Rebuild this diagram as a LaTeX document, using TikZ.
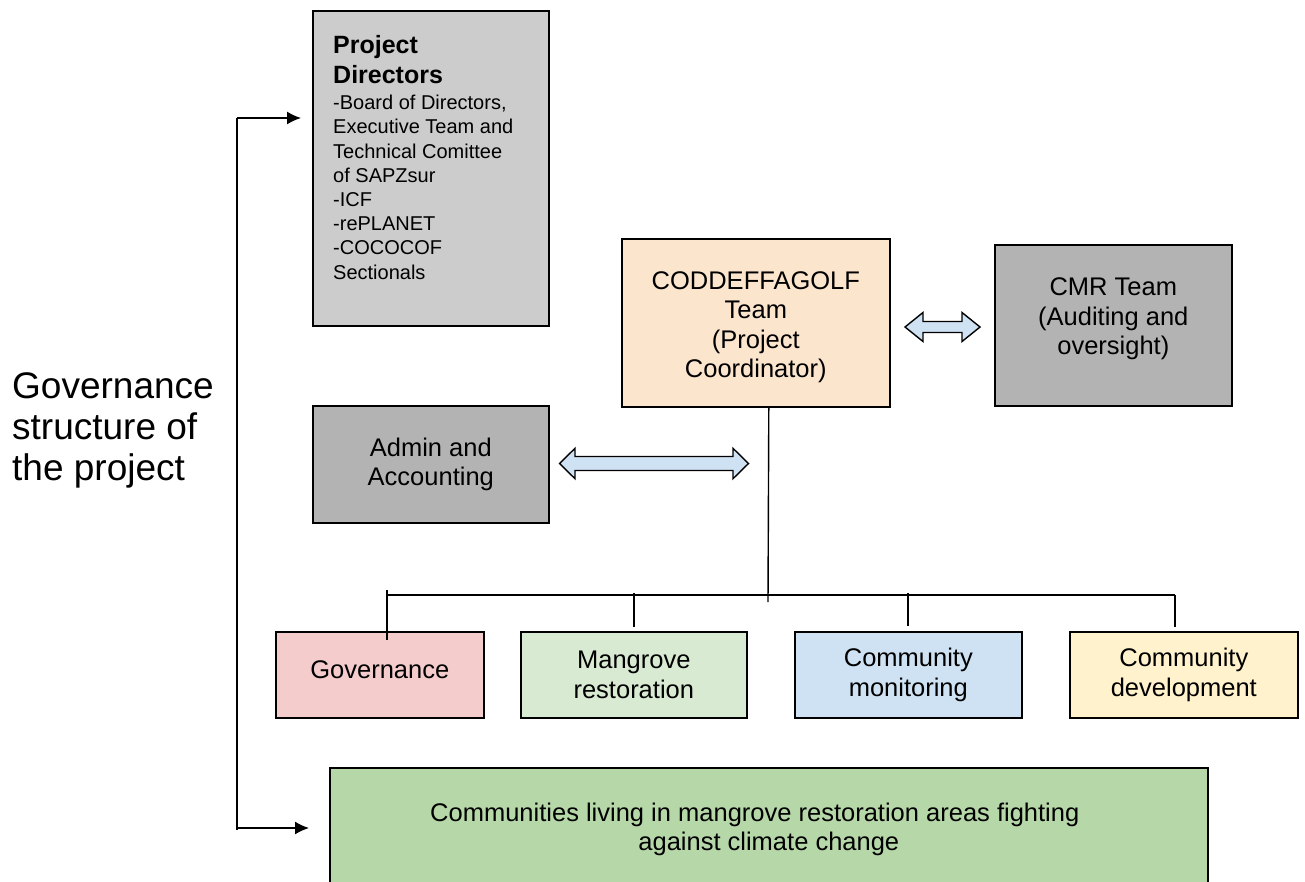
\documentclass[tikz,border=0pt]{standalone}
\usepackage{fontspec}
\setmainfont{Liberation Sans}
\usetikzlibrary{arrows.meta}
\definecolor{pdgray}{HTML}{CCCCCC}
\definecolor{dkgray}{HTML}{B3B3B3}
\definecolor{peach}{HTML}{FCE5CD}
\definecolor{pinkc}{HTML}{F4CCCC}
\definecolor{greenc}{HTML}{D9EAD3}
\definecolor{bluec}{HTML}{CFE2F3}
\definecolor{yellowc}{HTML}{FFF2CC}
\definecolor{commgreen}{HTML}{B6D7A8}
\tikzset{
  box/.style={draw=black, line width=1.6pt, anchor=north west, inner sep=0pt, align=center,
    font=\fontsize{25.5}{29.5}\selectfont},
  conn/.style={draw=black, line width=1.4pt},
  dbl/.style={draw=black, line width=1.4pt, fill=bluec, line join=miter},
  tip/.style={-{Latex[length=14pt,width=13pt]}}
}
\begin{document}
\begin{tikzpicture}[x=1pt,y=-1pt]
\useasboundingbox[fill=white] (0,0) rectangle (1305,881);

% left label
\node[anchor=base west, align=left, inner sep=0pt,
  font=\fontsize{37}{41}\selectfont] (label) at (12,480)
  {Governance\\structure of\\the project};

% project directors
\node[box, fill=pdgray, minimum width=236, minimum height=315] (pd) at (312,10) {};
\node[anchor=base west, align=left, inner sep=0pt,
  font=\fontsize{25}{29.5}\selectfont\bfseries] (pdhead) at (333,83)
  {Project\\Directors};
\node[anchor=base west, align=left, inner sep=0pt,
  font=\fontsize{20}{24.2}\selectfont] (pdbody) at (333,279)
  {-Board of Directors,\\Executive Team and\\Technical Comittee\\of SAPZsur\\-ICF\\-rePLANET\\-COCOCOF\\Sectionals};

% coordinator
\node[box, fill=peach, minimum width=268, minimum height=168] (coord) at (621,238)
  {\rule{0pt}{27pt}CODDEFFAGOLF\\Team\\(Project\\Coordinator)};

% CMR
\node[box, fill=dkgray, minimum width=237, minimum height=161] (cmr) at (994,244)
  {CMR Team\\(Auditing and\\oversight)\\[-12pt]};

% Admin
\node[box, fill=dkgray, minimum width=236, minimum height=117] (admin) at (312,405)
  {Admin and\\Accounting};

% bottom boxes
\node[box, fill=pinkc, minimum width=208, minimum height=86] (gov) at (275,631)
  {Governance\\[-20pt]};
\node[box, fill=greenc, minimum width=226, minimum height=86] (mang) at (520,631)
  {Mangrove\\restoration};
\node[box, fill=bluec, minimum width=227, minimum height=86] (mon) at (794,631)
  {Community\\monitoring};
\node[box, fill=yellowc, minimum width=228, minimum height=86] (dev) at (1069,631)
  {Community\\development};

% communities box (cut by page edge)
\begin{scope}
\clip (0,0) rectangle (1305,881);
\node[box, fill=commgreen, minimum width=878, minimum height=130,
  font=\fontsize{25.5}{29}\selectfont] (comm) at (329,767)
  {Communities living in mangrove restoration areas fighting\hspace*{28pt}\\against climate change\\[-16pt]};
\end{scope}

% double arrows
\draw[dbl] (905,327) -- (923,312.5) -- (923,321.5) -- (962,321.5) -- (962,312.5)
  -- (980,327) -- (962,341.5) -- (962,332.5) -- (923,332.5) -- (923,341.5) -- cycle;
\draw[dbl] (559.5,463.5) -- (575,448.3) -- (575,456.5) -- (733,456.5) -- (733,448.3)
  -- (748.5,463.5) -- (733,478.7) -- (733,470.5) -- (575,470.5) -- (575,478.7) -- cycle;

% tree connectors
\coordinate (cdrop) at ([xshift=13pt]coord.south);
\coordinate (cbot) at (768,602);
\coordinate (busl) at (387,595);
\coordinate (busr) at (1175,595);
\draw[conn] (cdrop) -- (cbot);
\draw[conn] (busl) -- (busr);
\draw[conn] (387,590) -- (387,640);
\draw[conn] (634,593) -- (634,627);
\draw[conn] (908,593) -- (908,626);
\draw[conn] (1175,595) -- (1175,627);

% left feedback connector
\coordinate (ltop) at (237,118);
\coordinate (lbot) at (237,830);
\coordinate (lbar) at (237,828);
\draw[conn] (ltop) -- (lbot);
\draw[conn, tip, shorten >=11pt] (ltop) -- (ltop -| pd.west);
\draw[conn, tip, shorten >=20pt] (lbar) -- (lbar -| comm.west);
\end{tikzpicture}
\end{document}
